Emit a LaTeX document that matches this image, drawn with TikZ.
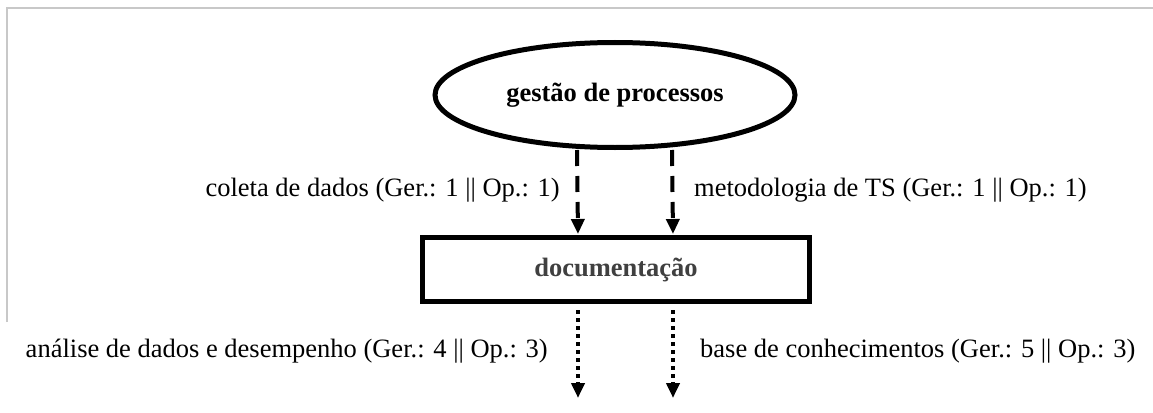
\documentclass[tikz,border=0pt]{standalone}
\usepackage{fontspec}
\setmainfont{Liberation Serif}
\usepackage{xcolor}
\usepackage{tikz}
\usetikzlibrary{positioning, shapes.geometric, arrows.meta}

\definecolor{framegray}{RGB}{200,200,200}
\definecolor{doctext}{RGB}{64,64,64}

\begin{document}
\begin{tikzpicture}[x=1pt,y=-1pt]
	\tikzstyle{process}=[ellipse,draw=black,line width=5pt,minimum width=360pt,minimum height=105pt,font=\bfseries]
	\tikzstyle{artifact}=[rectangle,draw=black,line width=5pt,minimum width=387pt,minimum height=64pt,font=\bfseries,text=doctext]
	\tikzstyle{flowlabel}=[inner sep=0pt]
	\tikzstyle{inflow}=[line width=4pt,dash pattern=on 16pt off 10pt,-{Triangle[length=15pt,width=13pt]}]
	\tikzstyle{outflow}=[line width=4pt,dash pattern=on 4pt off 4pt,-{Triangle[length=15pt,width=13pt]}]
	\useasboundingbox (0,0) rectangle (1153,412);
	\fontsize{26.5}{30}\selectfont
	% moldura
	\draw[framegray,line width=2pt] (7,322) -- (7,8) -- (1153,8);
	% nos
	\node[process](gp) at (615,95) {gestão de processos};
	\node[artifact](doc) at (616,269.5) {documentação};
	\coordinate (o1) at (578,398);
	\coordinate (o2) at (673,398);
	% entradas
	\draw[inflow,shorten >=1pt] ([xshift=-38pt]gp.south) -- ([xshift=-38pt]doc.north);
	\draw[inflow,shorten >=1pt] ([xshift=57pt]gp.south) -- ([xshift=57pt]doc.north);
	\node[flowlabel,anchor=east] (l1) at (560,190) {coleta de dados (Ger.: 1 || Op.: 1)};
	\node[flowlabel,anchor=west] (l2) at (694,190) {metodologia de TS (Ger.: 1 || Op.: 1)};
	% saidas
	\draw[outflow,shorten <=6pt] ([xshift=-38pt]doc.south) -- (o1);
	\draw[outflow,shorten <=6pt] ([xshift=57pt]doc.south) -- (o2);
	\node[flowlabel,anchor=east] (l3) at (548,351) {análise de dados e desempenho (Ger.: 4 || Op.: 3)};
	\node[flowlabel,anchor=west] (l4) at (700,351) {base de conhecimentos (Ger.: 5 || Op.: 3)};
\end{tikzpicture}
\end{document}
